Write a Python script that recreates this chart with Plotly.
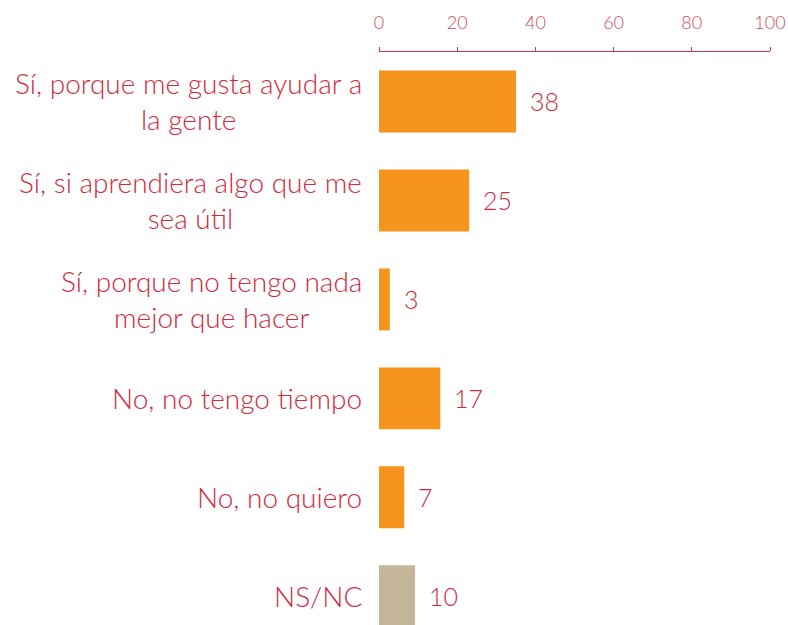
import plotly.graph_objects as go

categories = [
    "Sí, porque me gusta ayudar a<br>la gente",
    "Sí, si aprendiera algo que me<br>sea útil",
    "Sí, porque no tengo nada<br>mejor que hacer",
    "No, no tengo tiempo",
    "No, no quiero",
    "NS/NC",
]
values = [38, 25, 3, 17, 7, 10]
bar_colors = ["#F7941D", "#F7941D", "#F7941D", "#F7941D", "#F7941D", "#C4B59B"]
tick_values = [0, 20, 40, 60, 80, 100]
tick_labels = ["0", "20", "40", "60", "80", "100"]

TEXT = "#D02A40"
FONT = "Lato"

fig = go.Figure()
fig.add_trace(go.Bar(
    x=values, y=categories, orientation="h",
    marker=dict(color=bar_colors, line=dict(width=0)),
    hoverinfo="skip", showlegend=False,
))
# invisible trace that carries the top percentage axis
fig.add_trace(go.Scatter(
    x=[0, 100], y=[categories[0], categories[0]], xaxis="x2",
    mode="markers", marker=dict(opacity=0), hoverinfo="skip", showlegend=False,
))

annotations = []
for c, v in zip(categories, values):
    annotations.append(dict(
        x=v, y=c, xref="x", yref="y", text=str(v), showarrow=False,
        xanchor="left", xshift=12,
        font=dict(family=FONT, size=25, color=TEXT, weight=300),
    ))
    annotations.append(dict(
        x=0, y=c, xref="paper", yref="y", text=c, showarrow=False,
        xanchor="right", xshift=-15, align="center",
        font=dict(family=FONT, size=28, color=TEXT, weight=300),
    ))

fig.update_layout(
    width=788, height=625,
    margin=dict(l=379, r=18, t=52, b=0, autoexpand=False),
    paper_bgcolor="white", plot_bgcolor="white",
    bargap=0.374,
    annotations=annotations,
    xaxis=dict(range=[0, 108.4], showticklabels=False, showline=False,
               showgrid=False, zeroline=False, ticks="", automargin=False),
    xaxis2=dict(overlaying="x", side="top", range=[0, 100],
                tickvals=tick_values, ticktext=tick_labels,
                showline=True, linecolor="#C8394B", linewidth=1,
                ticks="outside", ticklen=4, tickcolor="#C8394B",
                showgrid=False, zeroline=False, ticklabelstandoff=11,
                automargin=False,
                tickfont=dict(family=FONT, size=18, color="#D24A5A", weight=300)),
    yaxis=dict(type="category", categoryorder="array", categoryarray=categories,
               range=[5.29, -0.5], showticklabels=False, showline=False,
               showgrid=False, zeroline=False, ticks="", automargin=False),
)

fig.write_html(
    "out.html",
    config={"displayModeBar": False},
    post_script="document.body.style.margin='0';document.body.style.overflow='hidden';",
)
